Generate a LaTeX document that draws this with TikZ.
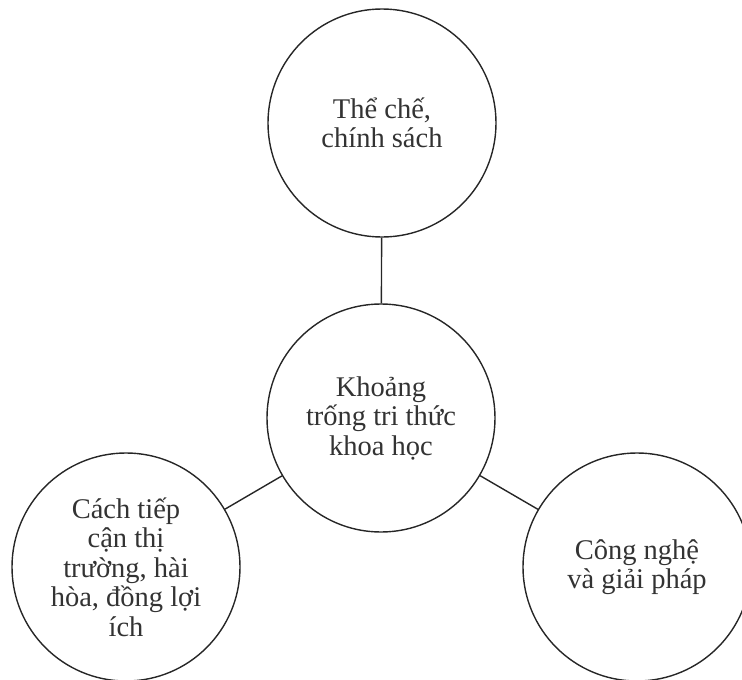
\documentclass[tikz,border=0pt]{standalone}
\usepackage{fontspec}
\setmainfont{Liberation Serif}
\begin{document}
\begin{tikzpicture}[x=1pt,y=-1pt,
  bubble/.style={circle,draw=black!85,line width=1.4pt,minimum size=228pt,inner sep=0pt,
    align=center,font=\fontsize{28.5}{29.5}\selectfont,text=black!80},
  link/.style={draw=black!85,line width=1.4pt}]
\useasboundingbox (0,0) rectangle (742,680);
\node[bubble] (top) at (382,123) {Thể chế,\\chính sách};
\node[bubble] (mid) at (381,418) {Khoảng\\trống tri thức\\khoa học};
\node[bubble] (left) at (126,567) {Cách tiếp\\cận thị\\trường, hài\\hòa, đồng lợi\\ích};
\node[bubble] (right) at (637,567) {Công nghệ\\và giải pháp};
\draw[link] (top) -- (mid);
\draw[link] (mid) -- (left);
\draw[link] (mid) -- (right);
\end{tikzpicture}
\end{document}
